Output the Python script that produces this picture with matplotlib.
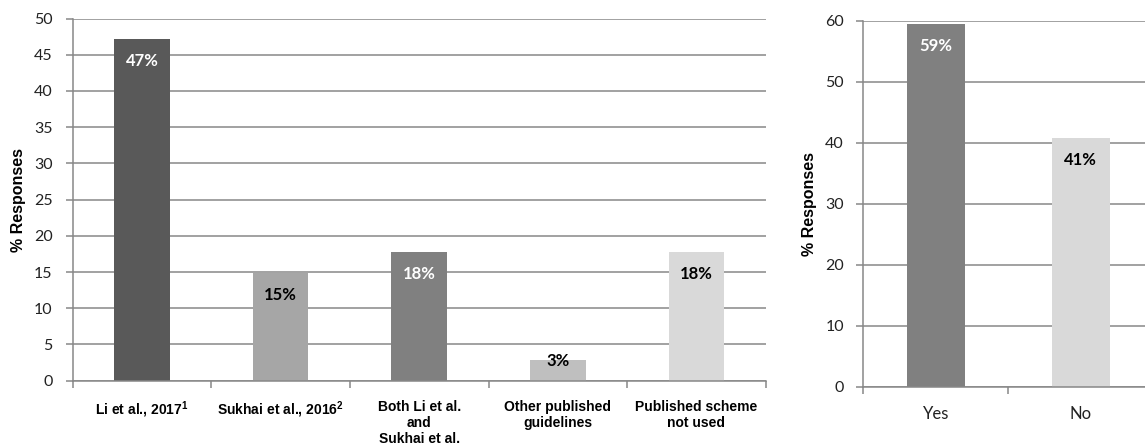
import matplotlib
matplotlib.use('Agg')
import matplotlib.pyplot as plt
import numpy as np
from matplotlib import font_manager

# scheme used for variant classification (left) and yes/no answer (right)
scheme_labels = ['Li et al., 2017$^{1}$', 'Sukhai et al., 2016$^{2}$',
                 'Both Li et al.\nand\nSukhai et al.', 'Other published\nguidelines',
                 'Published scheme\nnot used']
scheme_pct = [47.2, 14.9, 17.8, 2.8, 17.8]
scheme_text = ['47%', '15%', '18%', '3%', '18%']
scheme_colors = ['#595959', '#a6a6a6', '#808080', '#bfbfbf', '#d9d9d9']
scheme_text_colors = ['white', 'black', 'white', 'black', 'black']

answer_labels = ['Yes', 'No']
answer_pct = [59.5, 40.8]
answer_text = ['59%', '41%']
answer_colors = ['#808080', '#d9d9d9']
answer_text_colors = ['white', 'black']

names = {f.name for f in font_manager.fontManager.ttflist}
narrow = 'Liberation Sans Narrow' if 'Liberation Sans Narrow' in names else 'Liberation Sans'
num_font = 'Lato'

plt.rcParams['mathtext.fontset'] = 'custom'
plt.rcParams['mathtext.rm'] = narrow + ':bold'
plt.rcParams['mathtext.it'] = narrow + ':bold'
plt.rcParams['mathtext.bf'] = narrow + ':bold'

GRID = '#878787'
W, H = 1145, 446
fig = plt.figure(figsize=(W / 100, H / 100), dpi=100)


def px_axes(x0, y0, x1, y1):
    return fig.add_axes([x0 / W, 1 - y1 / H, (x1 - x0) / W, (y1 - y0) / H])


def style(ax, ymax, step, pad):
    ax.set_ylim(0, ymax)
    ax.set_yticks(np.arange(0, ymax + 1, step))
    ax.yaxis.grid(True, color=GRID, lw=1.1)
    ax.set_axisbelow(True)
    for s in ['top', 'right']:
        ax.spines[s].set_visible(False)
    for s in ['left', 'bottom']:
        ax.spines[s].set_color(GRID)
        ax.spines[s].set_linewidth(1.1)
    ax.tick_params(axis='y', length=5, width=1.1, color=GRID, pad=pad,
                   labelsize=11.5, labelcolor='#222222')
    for t in ax.get_yticklabels():
        t.set_fontfamily(num_font)
    ax.set_ylabel('% Responses', fontsize=11.5, fontweight='bold',
                  fontfamily='Liberation Sans')


def bars(ax, vals, texts, colors, tcolors, px_per_unit):
    n = len(vals)
    x = np.arange(n)
    ax.bar(x, vals, width=0.4, color=colors, zorder=2)
    ax.set_xlim(-0.5, n - 0.5)
    ax.set_xticks(np.arange(n + 1) - 0.5)
    ax.set_xticklabels([])
    ax.tick_params(axis='x', length=5, width=1.1, color=GRID)
    for xi, v, t, c in zip(x, vals, texts, tcolors):
        # label sits inside the top of the bar unless the bar is too short
        off = -22 if v * px_per_unit > 44 else -1
        ax.annotate(t, (xi, v), xytext=(0, off * 0.72), textcoords='offset points',
                    ha='center', va='center', fontsize=12, fontweight='bold',
                    color=c, fontfamily=num_font, zorder=3)
    return x


# left panel
ax1 = px_axes(72.7, 18.5, 765.7, 380.7)
style(ax1, 50, 5, 9.5)
x1 = bars(ax1, scheme_pct, scheme_text, scheme_colors, scheme_text_colors, 7.24)
for xi, lab in zip(x1, scheme_labels):
    ax1.text(xi, -2.6, lab, ha='center', va='top', fontsize=10, fontweight='bold',
             fontfamily=narrow, linespacing=1.2)
ax1.yaxis.set_label_coords(-0.067, 0.5)

# right panel (runs off the right edge)
ax2 = px_axes(863.3, 20.7, 1153, 386.7)
style(ax2, 60, 10, 9)
x2 = bars(ax2, answer_pct, answer_text, answer_colors, answer_text_colors, 6.1)
for xi, lab in zip(x2, answer_labels):
    ax2.text(xi, -3.2, lab, ha='center', va='top', fontsize=12,
             fontfamily=num_font, color='#222222')
ax2.yaxis.set_label_coords(-0.16, 0.5)

fig.savefig('out.png', dpi=100)
